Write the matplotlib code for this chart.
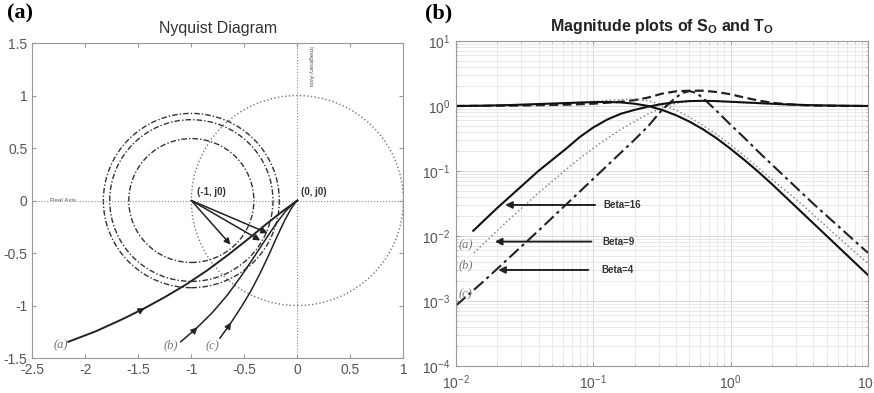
import numpy as np
import matplotlib
matplotlib.use("Agg")
import matplotlib.pyplot as plt
from matplotlib.patches import Circle
from matplotlib.ticker import LogLocator, NullFormatter

plt.rcParams['font.family'] = ['Liberation Sans', 'DejaVu Sans']
plt.rcParams['mathtext.fontset'] = 'custom'
plt.rcParams['mathtext.rm'] = 'Liberation Sans'
plt.rcParams['mathtext.bf'] = 'Liberation Sans:bold'

# ---- Nyquist data ----
nyq_a_x = [-2.16, -1.90, -1.65, -1.45, -1.25, -1.05, -0.85, -0.65, -0.45, -0.30, -0.15, 0.0]
nyq_a_y = [-1.345, -1.245, -1.13, -1.03, -0.92, -0.80, -0.665, -0.515, -0.355, -0.23, -0.11, 0.0]
nyq_b_x = [-1.10, -0.95, -0.80, -0.66, -0.53, -0.41, -0.30, -0.20, -0.11, -0.04, 0.0]
nyq_b_y = [-1.345, -1.215, -1.065, -0.90, -0.72, -0.54, -0.37, -0.22, -0.10, -0.03, 0.0]
nyq_c_x = [-0.73, -0.63, -0.53, -0.44, -0.35, -0.27, -0.19, -0.12, -0.06, -0.02, 0.0]
nyq_c_y = [-1.31, -1.17, -1.015, -0.865, -0.69, -0.52, -0.34, -0.19, -0.08, -0.02, 0.0]
arrow_idx = [3, 1, 1]

circle_radii = [0.83, 0.77, 0.59]
vec_tip_x = [-0.63, -0.35, -0.28]
vec_tip_y = [-0.42, -0.38, -0.31]

# ---- magnitude data (log10 of frequency / log10 of magnitude) ----
so_a_lw = [-1.874, -1.8, -1.7, -1.6, -1.5, -1.4, -1.3, -1.2, -1.1, -1.0, -0.9, -0.8, -0.7, -0.6,
           -0.5, -0.4, -0.3, -0.2, -0.1, 0.0, 0.2, 0.4, 0.6, 0.8, 1.0]
so_a_lm = [-1.92, -1.77, -1.57, -1.38, -1.19, -1.00, -0.83, -0.66, -0.48, -0.33, -0.21, -0.12, -0.06, -0.01,
           0.03, 0.06, 0.075, 0.08, 0.075, 0.065, 0.045, 0.025, 0.012, 0.005, 0.0]
to_a_lw = [-2.0, -1.8, -1.6, -1.4, -1.2, -1.0, -0.9, -0.8, -0.7, -0.6, -0.5, -0.4, -0.3, -0.2, -0.1,
           0.0, 0.1, 0.2, 0.3, 0.4, 0.5, 0.6, 0.7, 0.8, 0.9, 1.0]
to_a_lm = [0.0, 0.005, 0.015, 0.03, 0.045, 0.06, 0.062, 0.055, 0.035, 0.0, -0.06, -0.14, -0.24, -0.36, -0.50,
           -0.66, -0.83, -1.01, -1.20, -1.40, -1.60, -1.80, -2.0, -2.2, -2.4, -2.6]

so_b_lw = [-1.87, -1.8, -1.7, -1.6, -1.5, -1.4, -1.3, -1.2, -1.1, -1.0, -0.9, -0.8, -0.7, -0.6, -0.5,
           -0.4, -0.3, -0.2, -0.1, 0.0, 0.2, 0.4, 0.6, 0.8, 1.0]
so_b_lm = [-2.26, -2.12, -1.92, -1.72, -1.53, -1.34, -1.16, -0.98, -0.81, -0.65, -0.50, -0.36, -0.24, -0.12, -0.03,
           0.04, 0.075, 0.08, 0.07, 0.06, 0.04, 0.02, 0.01, 0.004, 0.0]
to_b_lw = [-2.0, -1.8, -1.6, -1.4, -1.2, -1.0, -0.9, -0.8, -0.7, -0.6, -0.5, -0.4, -0.3, -0.2, -0.1,
           0.0, 0.1, 0.2, 0.3, 0.4, 0.5, 0.6, 0.7, 0.8, 0.9, 1.0]
to_b_lm = [0.0, 0.005, 0.012, 0.025, 0.045, 0.07, 0.085, 0.10, 0.105, 0.08, 0.02, -0.06, -0.17, -0.30, -0.44,
           -0.60, -0.77, -0.95, -1.13, -1.30, -1.48, -1.67, -1.86, -2.05, -2.24, -2.42]

peak_c_lw = [-2.0, -1.8, -1.6, -1.4, -1.2, -1.0, -0.9, -0.8, -0.7, -0.6, -0.5, -0.4, -0.35, -0.3, -0.25,
             -0.2, -0.15, -0.1, 0.0, 0.1, 0.2, 0.3, 0.4, 0.5, 0.6, 0.7, 0.8, 0.9, 1.0]
peak_c_lm = [-3.07, -2.70, -2.31, -1.92, -1.52, -1.12, -0.92, -0.72, -0.52, -0.31, -0.06, 0.13, 0.20, 0.23, 0.20,
             0.12, 0.02, -0.08, -0.29, -0.49, -0.70, -0.90, -1.10, -1.30, -1.50, -1.69, -1.88, -2.07, -2.26]
flat_c_lw = [-2.0, -1.6, -1.2, -1.0, -0.9, -0.8, -0.7, -0.6, -0.5, -0.4, -0.3, -0.2, -0.1, 0.0, 0.1,
             0.2, 0.3, 0.4, 0.5, 0.6, 0.8, 1.0]
flat_c_lm = [0.0, 0.005, 0.02, 0.035, 0.05, 0.065, 0.09, 0.13, 0.19, 0.225, 0.235, 0.235, 0.215, 0.18, 0.13,
             0.085, 0.05, 0.03, 0.015, 0.006, 0.001, 0.0]

beta_labels = ['Beta=16', 'Beta=9', 'Beta=4']
beta_y = [0.030, 0.0082, 0.0030]
beta_tail_w = [0.103, 0.097, 0.092]
beta_tip_w = [0.0228, 0.0192, 0.0203]
beta_text_w = [0.1175, 0.117, 0.115]

case_labels = ['(a)', '(b)', '(c)']
case_y = [0.0071, 0.0035, 0.00126]


def pw(v):
    return np.power(10.0, v)


fig = plt.figure(figsize=(8.74, 3.93), dpi=100)
ax1 = fig.add_axes([0.037, 0.089, 0.4245, 0.8015])
ax2 = fig.add_axes([0.5217, 0.0687, 0.4714, 0.827])

tick_col = '#555555'
for ax in (ax1, ax2):
    for s in ax.spines.values():
        s.set_color('#999999')
        s.set_linewidth(0.8)
    ax.tick_params(direction='in', top=True, right=True, colors='#999999',
                   labelcolor=tick_col, labelsize=10, length=3)
    ax.tick_params(which='minor', direction='in', top=True, right=True, colors='#bbbbbb', length=1.5)
ax2.tick_params(axis='y', which='major', pad=4)
ax2.tick_params(axis='x', which='major', pad=5)

# ---- (a) Nyquist ----
ax1.set_xlim(-2.5, 1)
ax1.set_ylim(-1.5, 1.5)
ax1.set_xticks(np.arange(-2.5, 1.01, 0.5))
ax1.set_yticks(np.arange(-1.5, 1.51, 0.5))
ax1.set_xticklabels(['-2.5', '-2', '-1.5', '-1', '-0.5', '0', '0.5', '1'])
ax1.set_yticklabels(['-1.5', '-1', '-0.5', '0', '0.5', '1', '1.5'])
ax1.axhline(0, color='#888888', ls=':', lw=0.8)
ax1.axvline(0, color='#888888', ls=':', lw=0.8)
ax1.add_patch(Circle((0, 0), 1.0, fill=False, ls=':', lw=1.0, ec='#777777'))
for r in circle_radii:
    ax1.add_patch(Circle((-1, 0), r, fill=False, ls=(0, (4, 1.5, 1, 1.5)), lw=1.0, ec='#333333'))

curves = [(nyq_a_x, nyq_a_y, 1.4), (nyq_b_x, nyq_b_y, 1.1), (nyq_c_x, nyq_c_y, 1.1)]
for (cx, cy, lw), i in zip(curves, arrow_idx):
    ax1.plot(cx, cy, color='#222222', lw=lw)
    dx = cx[i + 1] - cx[i]
    dy = cy[i + 1] - cy[i]
    ax1.annotate('', xy=(cx[i] + 0.05 * dx, cy[i] + 0.05 * dy), xytext=(cx[i] - 0.05 * dx, cy[i] - 0.05 * dy),
                 arrowprops=dict(arrowstyle='-|>', color='#222222', lw=0.8, mutation_scale=10))
for tx, ty in zip(vec_tip_x, vec_tip_y):
    ax1.annotate('', xy=(tx, ty), xytext=(-1, 0),
                 arrowprops=dict(arrowstyle='-|>', color='#222222', lw=1.1, mutation_scale=9,
                                 shrinkA=0, shrinkB=0))

ax1.text(-0.95, 0.05, '(-1, j0)', fontsize=7, fontweight='bold', color='#333333')
ax1.text(0.03, 0.05, '(0, j0)', fontsize=7, fontweight='bold', color='#333333')
ax1.text(-2.33, 0, 'Real Axis', fontsize=4.5, color='#555555', va='center',
         bbox=dict(fc='white', ec='none', pad=0.5))
ax1.text(0.12, 1.47, 'Imaginary Axis', fontsize=4.5, color='#555555', rotation=270,
         va='top', ha='center')
for lab, lx, ly in zip(case_labels, [-2.236, -1.198, -0.805], [-1.376, -1.376, -1.39]):
    ax1.text(lx, ly, lab, fontsize=9, family='Liberation Serif', style='italic',
             color='#777777', ha='center', va='center')
ax1.set_title('Nyquist Diagram', fontsize=11.5, color='#333333', pad=7)

# ---- (b) magnitude plots ----
ax2.set_xscale('log')
ax2.set_yscale('log')
ax2.set_xlim(1e-2, 1e1)
ax2.set_ylim(1e-4, 1e1)
ax2.xaxis.set_minor_locator(LogLocator(base=10, subs=np.arange(2, 10), numticks=20))
ax2.yaxis.set_minor_locator(LogLocator(base=10, subs=np.arange(2, 10), numticks=20))
ax2.xaxis.set_minor_formatter(NullFormatter())
ax2.yaxis.set_minor_formatter(NullFormatter())
ax2.grid(which='major', color='#d8d8d8', lw=0.7)
ax2.grid(which='minor', color='#e6e6e6', lw=0.6)
ax2.set_axisbelow(True)

ax2.plot(pw(flat_c_lw), pw(flat_c_lm), color='#222222', ls=(0, (4, 2)), lw=1.6)
ax2.plot(pw(to_b_lw), pw(to_b_lm), color='#888888', ls=':', lw=1.1)
ax2.plot(pw(so_b_lw), pw(so_b_lm), color='#888888', ls=':', lw=1.1)
ax2.plot(pw(peak_c_lw), pw(peak_c_lm), color='#222222', ls=(0, (6, 2, 1.5, 2)), lw=1.5)
ax2.plot(pw(to_a_lw), pw(to_a_lm), color='#111111', lw=1.5)
ax2.plot(pw(so_a_lw), pw(so_a_lm), color='#111111', lw=1.5)

for lab, y, tw, hw, xw in zip(beta_labels, beta_y, beta_tail_w, beta_tip_w, beta_text_w):
    ax2.annotate('', xy=(hw, y), xytext=(tw, y),
                 arrowprops=dict(arrowstyle='-|>', color='#222222', lw=1.4, mutation_scale=10,
                                 shrinkA=0, shrinkB=0))
    ax2.text(xw, y, lab, fontsize=7, fontweight='bold', color='#333333', va='center')
for lab, y in zip(case_labels, case_y):
    ax2.text(0.0118, y, lab, fontsize=9, family='Liberation Serif', style='italic',
             color='#777777', ha='center', va='center')
ax2.set_title(r'Magnitude plots of S$_\mathbf{O}$ and T$_\mathbf{O}$', fontsize=11.5,
              fontweight='bold', color='#222222', pad=7)

fig.text(0.008, 0.965, '(a)', fontsize=16, fontweight='bold', family='Liberation Serif', va='center')
fig.text(0.486, 0.965, '(b)', fontsize=16, fontweight='bold', family='Liberation Serif', va='center')

fig.savefig('out.png', dpi=100)
